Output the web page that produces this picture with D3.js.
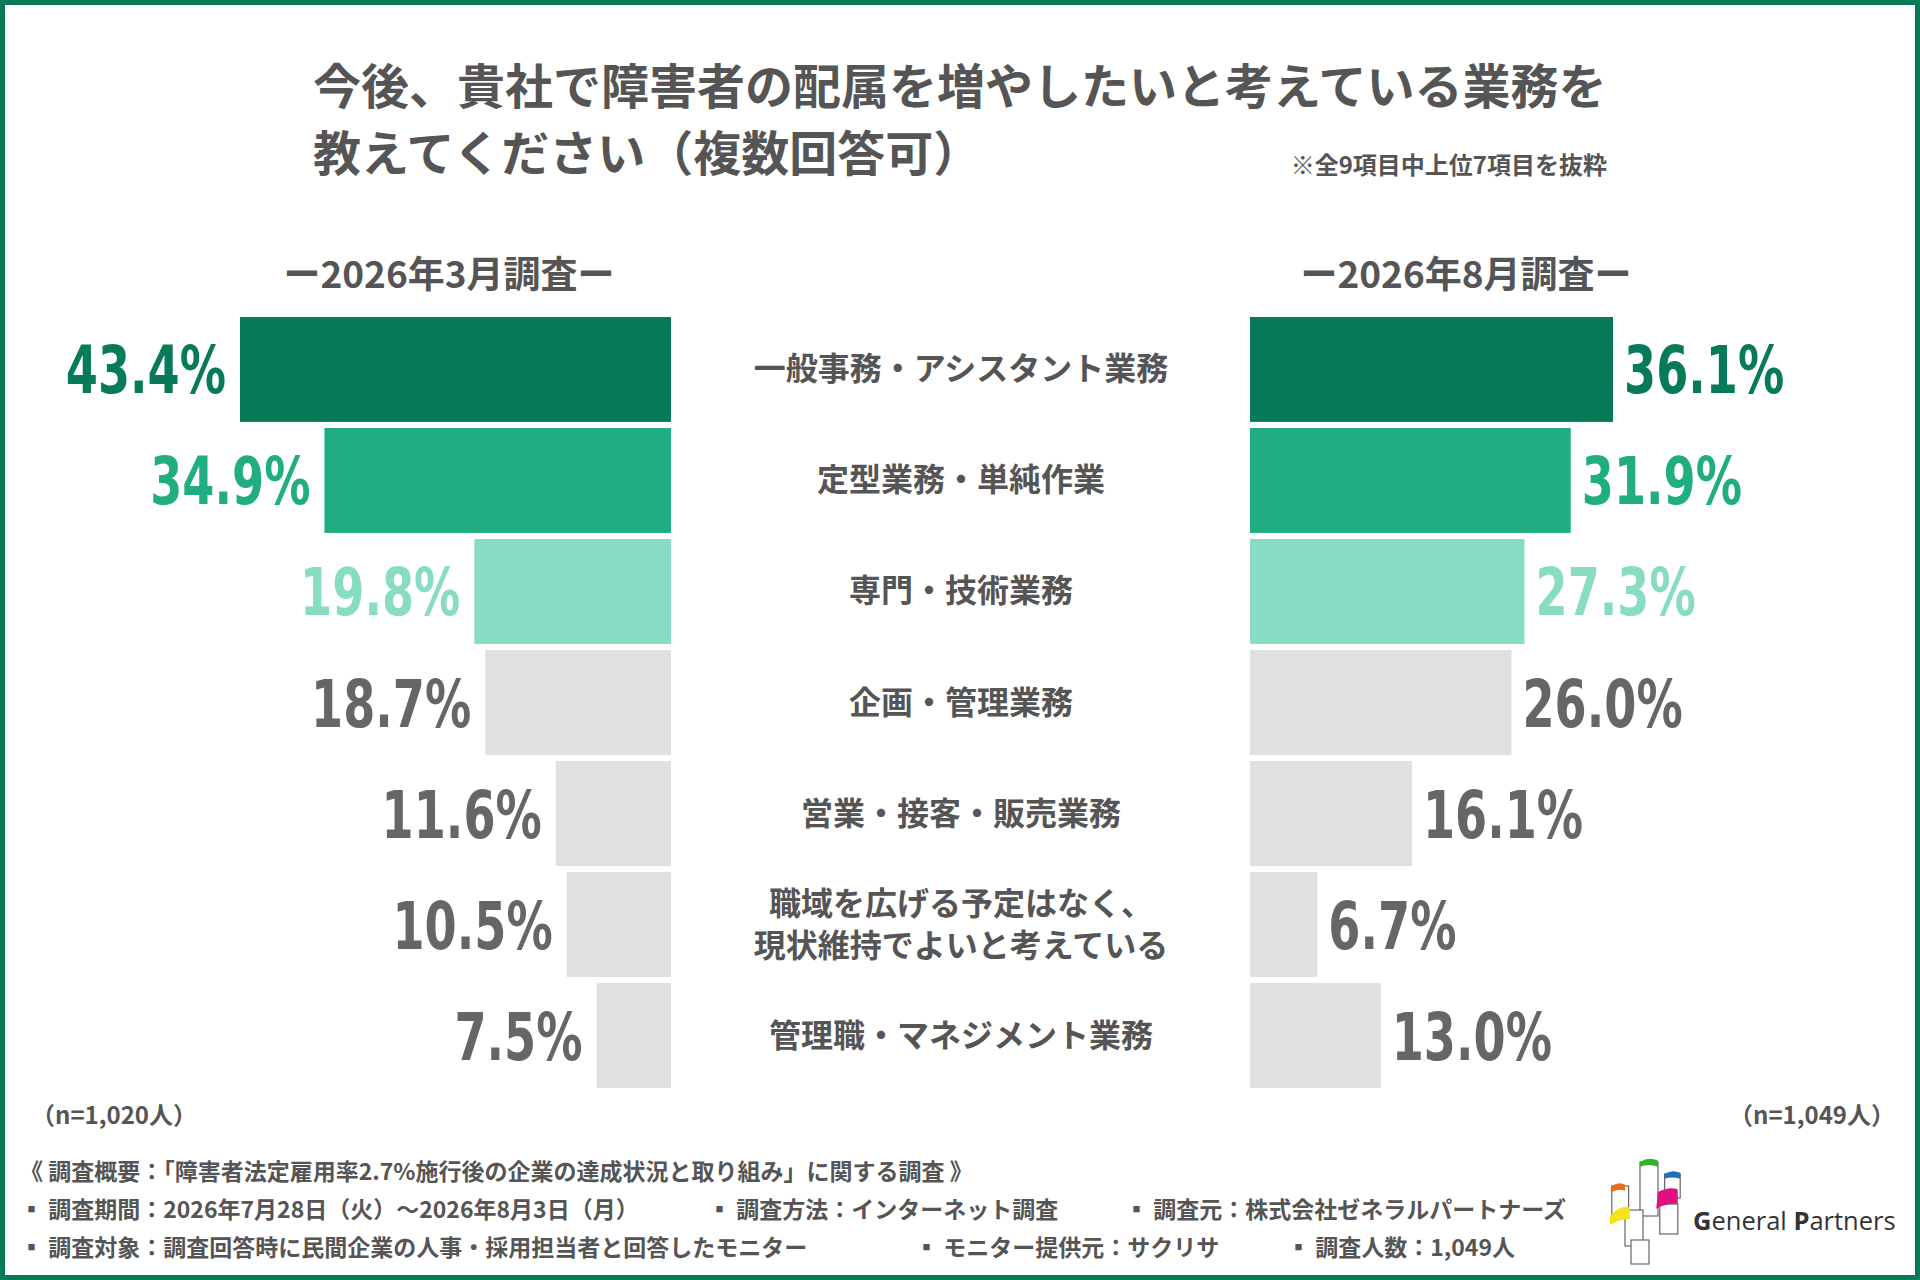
<!DOCTYPE html>
<html><head><meta charset="utf-8">
<script src="https://cdn.jsdelivr.net/npm/d3@7"></script>
<style>body{margin:0;background:#fff}svg{display:block}</style>
</head><body>
<svg id="chart" width="1920" height="1280"></svg>
<script>
// chart data
const categories = ["一般事務・アシスタント業務", "定型業務・単純作業", "専門・技術業務", "企画・管理業務", "営業・接客・販売業務", "職域を広げる予定はなく、\n現状維持でよいと考えている", "管理職・マネジメント業務"];
const march = [43.4, 34.9, 19.8, 18.7, 11.6, 10.5, 7.5];
const august = [36.1, 31.9, 27.3, 26.0, 16.1, 6.7, 13.0];
const barColors = ["#077a5a", "#20ad82", "#88dcc3", "#e0e0e0", "#e0e0e0", "#e0e0e0", "#e0e0e0"];
const textColors = ["#077a5a", "#20ad82", "#88dcc3", "#666", "#666", "#666", "#666"];

const JP = "'Noto Sans CJK JP', sans-serif";
const NUM = "'DejaVu Sans', sans-serif";
const svg = d3.select("#chart");

svg.append("rect").attr("x", 2.5).attr("y", 2.5).attr("width", 1915).attr("height", 1275)
    .attr("fill", "none").attr("stroke", "#077a5a").attr("stroke-width", 5);

// title
svg.append("text").attr("x", 313).attr("y", 104).attr("font-family", JP).attr("font-weight", 700)
    .attr("font-size", 48).attr("fill", "#555").text("今後、貴社で障害者の配属を増やしたいと考えている業務を");
svg.append("text").attr("x", 313).attr("y", 171).attr("font-family", JP).attr("font-weight", 700)
    .attr("font-size", 48).attr("fill", "#555").text("教えてください（複数回答可）");
svg.append("text").attr("x", 1607).attr("y", 174).attr("text-anchor", "end").attr("font-family", JP)
    .attr("font-weight", 700).attr("font-size", 24).attr("fill", "#555").text("※全9項目中上位7項目を抜粋");

svg.append("text").attr("x", 449).attr("y", 288).attr("text-anchor", "middle").attr("font-family", JP)
    .attr("font-weight", 700).attr("font-size", 37).attr("fill", "#555").text("ー2026年3月調査ー");
svg.append("text").attr("x", 1466).attr("y", 288).attr("text-anchor", "middle").attr("font-family", JP)
    .attr("font-weight", 700).attr("font-size", 37).attr("fill", "#555").text("ー2026年8月調査ー");

const y = d3.scaleBand().domain(categories).range([317, 1088]).paddingInner(0.055).paddingOuter(0);
const xl = d3.scaleLinear().domain([0, 43.4]).range([671, 240]);
const xr = d3.scaleLinear().domain([0, 36.1]).range([1250, 1613]);
const sx = 0.7;

const rows = svg.selectAll(".row").data(categories).enter().append("g");
rows.append("rect").attr("x", (d, i) => xl(march[i])).attr("y", d => y(d))
    .attr("width", (d, i) => xl(0) - xl(march[i])).attr("height", y.bandwidth()).attr("fill", (d, i) => barColors[i]);
rows.append("rect").attr("x", xr(0)).attr("y", d => y(d))
    .attr("width", (d, i) => xr(august[i]) - xr(0)).attr("height", y.bandwidth()).attr("fill", (d, i) => barColors[i]);
rows.append("text")
    .attr("transform", (d, i) => `translate(${xl(march[i]) - 14},${y(d) + y.bandwidth() / 2 + 24}) scale(${sx},1)`)
    .attr("text-anchor", "end").attr("font-family", NUM).attr("font-weight", 700).attr("font-size", 66)
    .attr("fill", (d, i) => textColors[i]).text((d, i) => march[i].toFixed(1) + "%");
rows.append("text")
    .attr("transform", (d, i) => `translate(${xr(august[i]) + 11},${y(d) + y.bandwidth() / 2 + 24}) scale(${sx},1)`)
    .attr("font-family", NUM).attr("font-weight", 700).attr("font-size", 66)
    .attr("fill", (d, i) => textColors[i]).text((d, i) => august[i].toFixed(1) + "%");
rows.each(function (d) {
    const lines = d.split("\n");
    const g = d3.select(this);
    lines.forEach((t, k) => {
        g.append("text").attr("x", 961)
            .attr("y", y(d) + y.bandwidth() / 2 + 11 + (k - (lines.length - 1) / 2) * 42)
            .attr("text-anchor", "middle").attr("font-family", JP).attr("font-weight", 700)
            .attr("font-size", 32).attr("fill", "#555").text(t);
    });
});

svg.append("text").attr("x", 31).attr("y", 1124).attr("font-family", JP).attr("font-weight", 700)
    .attr("font-size", 24).attr("fill", "#555").text("（n=1,020人）");
svg.append("text").attr("x", 1895).attr("y", 1124).attr("text-anchor", "end").attr("font-family", JP)
    .attr("font-weight", 700).attr("font-size", 24).attr("fill", "#555").text("（n=1,049人）");

// footer
const foot = [
    [[20, "《 調査概要：「障害者法定雇用率2.7%施行後の企業の達成状況と取り組み」に関する調査 》"]],
    [[20, "▪ 調査期間：2026年7月28日（火）～2026年8月3日（月）"], [708, "▪ 調査方法：インターネット調査"], [1125, "▪ 調査元：株式会社ゼネラルパートナーズ"]],
    [[20, "▪ 調査対象：調査回答時に民間企業の人事・採用担当者と回答したモニター"], [915, "▪ モニター提供元：サクリサ"], [1287, "▪ 調査人数：1,049人"]]
];
foot.forEach((line, r) => line.forEach(([x, t]) => {
    svg.append("text").attr("x", x).attr("y", 1180 + r * 38).attr("font-family", JP).attr("font-weight", 700)
        .attr("font-size", 23).attr("fill", "#555").text(t);
}));

// logo
const logo = svg.append("g").attr("transform", "translate(1607,1150) scale(0.6)");
[[8, 60, 28, 50], [55, 20, 30, 90], [96, 40, 26, 40], [30, 100, 30, 60], [88, 90, 30, 50], [40, 150, 30, 40]].forEach(b => {
    logo.append("rect").attr("x", b[0]).attr("y", b[1]).attr("width", b[2]).attr("height", b[3])
        .attr("fill", "#fff").attr("stroke", "#666").attr("stroke-width", 2);
});
logo.append("path").attr("d", "M55,20 Q70,10 85,18 L85,28 Q70,22 55,28Z").attr("fill", "#2db52d");
logo.append("path").attr("d", "M96,40 Q108,32 122,38 L122,48 Q108,44 96,48Z").attr("fill", "#1f6fc2");
logo.append("path").attr("d", "M8,60 Q20,52 30,58 L30,68 Q20,64 8,70Z").attr("fill", "#f06a1d");
logo.append("path").attr("d", "M85,70 Q105,60 118,66 L118,90 Q100,88 82,98Z").attr("fill", "#e0117f");
logo.append("path").attr("d", "M5,110 Q20,92 38,95 L38,115 Q20,115 5,125Z").attr("fill", "#f2e418");
svg.append("text").attr("x", 1693).attr("y", 1230).attr("font-family", "'Open Sans', sans-serif")
    .attr("font-size", 25.5).attr("fill", "#333")
    .html('<tspan font-weight="700">G</tspan>eneral <tspan font-weight="700">P</tspan>artners');
</script>
</body></html>
